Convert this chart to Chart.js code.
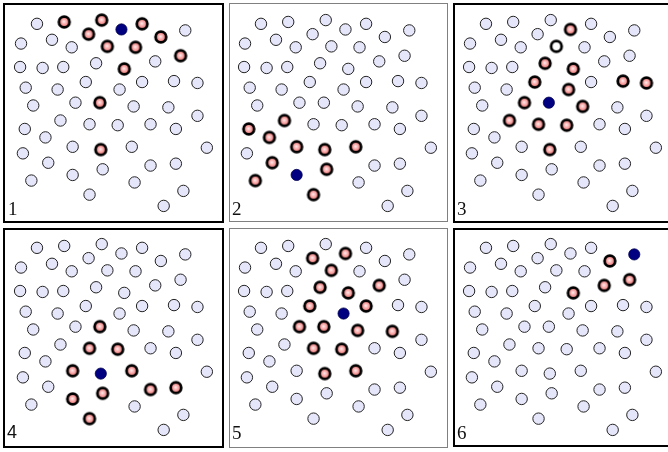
<!DOCTYPE html>
<html>
<head>
<meta charset="utf-8">
<script src="https://cdn.jsdelivr.net/npm/chart.js@4.4.1/dist/chart.umd.min.js"></script>
<style>
  html, body { margin: 0; padding: 0; background: #fff; }
  body { width: 668px; height: 452px; position: relative; overflow: hidden; }
  .frame { position: absolute; box-sizing: border-box; background: #fff; }
  .frame.dark { border: 2px solid #000; }
  .frame.light { border: 1px solid #808080; }
  canvas.panel { position: absolute; }
  .num { position: absolute; line-height: 19px; color: #111; }
</style>
</head>
<body>
<script>
// the same 55 dots appear in every panel (x, y in panel units, y down)
const pointX = [28, 57, 97, 118, 140, 186, 83, 160, 11, 44, 65, 103, 133, 181, 10, 34, 56, 91, 121, 154,
  16, 50, 80, 116, 140, 174, 199, 24, 69, 95, 131, 168, 199, 15, 53, 84, 114, 149, 176, 37,
  13, 66, 96, 129, 209, 40, 149, 176, 98, 66, 22, 132, 84, 184, 163];
const pointY = [14, 12, 10, 20, 14, 21, 25, 28, 35, 31, 39, 38, 39, 48, 60, 61, 60, 56, 62, 54,
  82, 84, 76, 84, 76, 75, 77, 101, 98, 98, 102, 103, 112, 126, 117, 121, 122, 121, 126, 135,
  152, 145, 148, 145, 146, 162, 165, 163, 169, 175, 181, 183, 196, 192, 208];

// per panel: the dark blue dot, the highlighted neighbours, the open ring (point ids, 1-based)
const panelLabels = ['1', '2', '3', '4', '5', '6'];
const blueIds = [4, 50, 30, 43, 24, 6];
const hotIds = [
  [2, 3, 5, 7, 8, 12, 13, 14, 19, 30, 43],
  [34, 35, 40, 42, 43, 44, 46, 49, 51, 53],
  [4, 18, 19, 23, 24, 26, 27, 29, 31, 35, 36, 37, 43],
  [30, 36, 37, 42, 44, 47, 48, 49, 50, 53],
  [4, 7, 12, 18, 19, 20, 23, 25, 29, 30, 31, 32, 36, 37, 43, 44],
  [8, 14, 19, 20]
];
const ringIds = [[], [], [12], [], [], []];

const panels = [
  { left: 4, top: 4, frame: [3, 3, 221, 220], style: 'dark', font: 'Liberation Serif', lx: 8, ly: 199 },
  { left: 228, top: 4, frame: [229, 3, 219, 219], style: 'light', font: 'Liberation Serif', lx: 232, ly: 199 },
  { left: 453, top: 4, frame: [453, 3, 221, 220], style: 'dark', font: 'Liberation Serif', lx: 457, ly: 199 },
  { left: 4, top: 228, frame: [3, 228, 221, 220], style: 'dark', font: 'Liberation Sans', lx: 7, ly: 423 },
  { left: 228, top: 228, frame: [229, 228, 219, 220], style: 'light', font: 'Liberation Serif', lx: 232, ly: 423 },
  { left: 453, top: 228, frame: [453, 228, 221, 219], style: 'dark', font: 'Liberation Serif', lx: 457, ly: 423 }
];

function makeDot(fill, ring) {
  const c = document.createElement('canvas');
  c.width = 16;
  c.height = 16;
  const ctx = c.getContext('2d');
  ctx.beginPath();
  ctx.arc(8, 8, 5.3, 0, Math.PI * 2);
  if (fill === 'grad') {
    const g = ctx.createRadialGradient(7.6, 7.6, 0, 8, 8, 5.3);
    g.addColorStop(0, '#fff2f2');
    g.addColorStop(0.4, '#fbb4b4');
    g.addColorStop(1, '#ee6e6e');
    ctx.fillStyle = g;
  } else {
    ctx.fillStyle = fill;
  }
  ctx.fill();
  ctx.lineWidth = ring;
  ctx.strokeStyle = '#000';
  ctx.stroke();
  return c;
}

const hotDot = makeDot('grad', 2.8);
const openDot = makeDot('#ffffff', 2.8);

function pts(ids) {
  return ids.map(id => ({ x: pointX[id - 1], y: pointY[id - 1] }));
}

panels.forEach((p, i) => {
  const f = document.createElement('div');
  f.className = 'frame ' + p.style;
  f.style.left = p.frame[0] + 'px';
  f.style.top = p.frame[1] + 'px';
  f.style.width = p.frame[2] + 'px';
  f.style.height = p.frame[3] + 'px';
  document.body.appendChild(f);

  const cv = document.createElement('canvas');
  cv.className = 'panel';
  cv.width = 218;
  cv.height = 218;
  cv.style.left = p.left + 'px';
  cv.style.top = p.top + 'px';
  document.body.appendChild(cv);

  const special = [blueIds[i]].concat(hotIds[i], ringIds[i]);
  const plainIds = pointX.map((_, k) => k + 1).filter(id => !special.includes(id));

  new Chart(cv, {
    type: 'scatter',
    data: {
      datasets: [
        {
          data: pts(plainIds),
          pointRadius: 5.7,
          pointBackgroundColor: '#e6e6fa',
          pointBorderColor: '#222',
          pointBorderWidth: 1,
          clip: false
        },
        {
          data: pts(hotIds[i]),
          pointStyle: hotDot,
          clip: false
        },
        {
          data: pts(ringIds[i]),
          pointStyle: openDot,
          clip: false
        },
        {
          data: pts([blueIds[i]]),
          pointRadius: 5.6,
          pointBackgroundColor: '#000080',
          pointBorderColor: '#000050',
          pointBorderWidth: 0.8,
          clip: false
        }
      ]
    },
    options: {
      responsive: false,
      animation: false,
      devicePixelRatio: 1,
      layout: { padding: 0 },
      scales: {
        x: { display: false, min: 0, max: 218 },
        y: { display: false, min: 0, max: 218, reverse: true }
      },
      plugins: {
        legend: { display: false },
        tooltip: { enabled: false }
      }
    }
  });

  const n = document.createElement('span');
  n.className = 'num';
  n.textContent = panelLabels[i];
  n.style.left = p.lx + 'px';
  n.style.top = p.ly + 'px';
  n.style.fontFamily = '"' + p.font + '"';
  n.style.fontSize = p.font === 'Liberation Sans' ? '18px' : '19px';
  document.body.appendChild(n);
});
</script>
</body>
</html>
